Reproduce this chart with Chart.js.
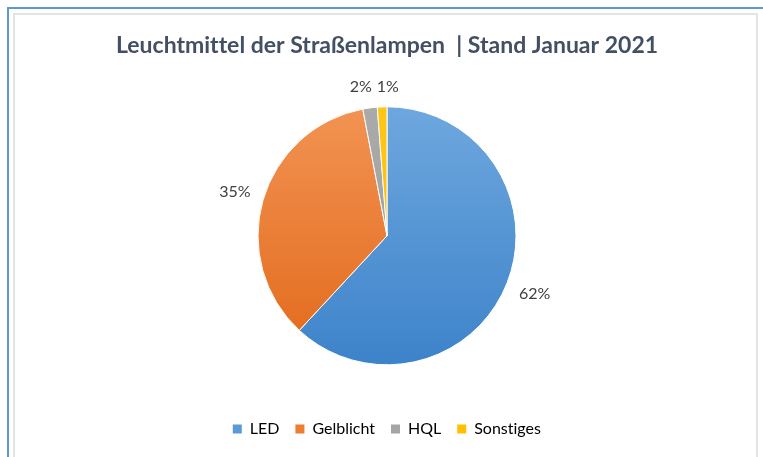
<!DOCTYPE html>
<html>
<head>
<meta charset="utf-8">
<script src="https://cdn.jsdelivr.net/npm/chart.js@4/dist/chart.umd.min.js"></script>
<style>
  html, body { margin: 0; padding: 0; background: #fff; }
  body { width: 763px; height: 457px; position: relative; overflow: hidden; }
  #outer { position: absolute; left: 7px; top: 7px; width: 780px; height: 470px;
           border-left: 2px solid #5b9bd5; border-top: 2px solid #5b9bd5; box-sizing: border-box; }
  #inner { position: absolute; left: 13px; top: 13px; width: 745px; height: 470px;
           border: 2px solid #e4e4e4; box-sizing: border-box; }
  #pie { position: absolute; left: 0; top: 0; }
</style>
</head>
<body>
<div id="outer"></div>
<div id="inner"></div>
<canvas id="pie" width="763" height="457"></canvas>
<script>
const categories = ["LED", "Gelblicht", "HQL", "Sonstiges"];
const shares = [61.9, 35.1, 1.8, 1.2];
const shareLabels = ["62%", "35%", "2%", "1%"];

const flat = ["#5b9bd5", "#ed7d31", "#a5a5a5", "#ffc000"];
const grad = [["#6ea7de", "#3d83ca"], ["#f29353", "#e2691a"], ["#aaaaaa", "#9c9c9c"], ["#ffc61a", "#f5b800"]];

const FONT = "Lato, 'Open Sans', sans-serif";

// no ligatures (Lato would join "ti")
const plainText = {
  id: "plainText",
  beforeDraw(chart) { chart.ctx.textRendering = "optimizeSpeed"; }
};

// slice labels placed just outside the rim, small neighbours pushed apart
const outsideLabels = {
  id: "outsideLabels",
  afterDatasetsDraw(chart) {
    const { ctx } = chart;
    const arcs = chart.getDatasetMeta(0).data;
    ctx.save();
    ctx.font = `16px ${FONT}`;
    ctx.fillStyle = "#404040";
    ctx.textAlign = "center";
    ctx.textBaseline = "middle";
    const pos = arcs.map((arc, i) => {
      const { x, y, startAngle, endAngle, outerRadius } = arc.getProps(["x", "y", "startAngle", "endAngle", "outerRadius"], true);
      const a = (startAngle + endAngle) / 2;
      const hw = ctx.measureText(shareLabels[i]).width / 2, hh = 8;
      const r = outerRadius + 12 + hw * Math.abs(Math.cos(a)) + hh * Math.abs(Math.sin(a));
      return { x: x + Math.cos(a) * r, y: y + Math.sin(a) * r, hw, i };
    });
    for (let k = 0; k < pos.length; k++) {
      for (let j = k + 1; j < pos.length; j++) {
        const p = pos[k], q = pos[j];
        if (Math.abs(p.y - q.y) < 16) {
          const need = p.hw + q.hw + 5;
          const gap = Math.abs(p.x - q.x);
          if (gap < need) {
            const m = (p.x + q.x) / 2, s = p.x < q.x ? 1 : -1;
            p.x = m - s * need / 2; q.x = m + s * need / 2;
            const yy = Math.min(p.y, q.y); p.y = yy; q.y = yy;
          }
        }
      }
    }
    pos.forEach(p => ctx.fillText(shareLabels[p.i], p.x, p.y));
    ctx.restore();
  }
};

function sliceFill(c) {
  const chart = c.chart, i = c.dataIndex;
  if (!chart.chartArea) return flat[i];
  const cy = (chart.chartArea.top + chart.chartArea.bottom) / 2, r = 129;
  const g = chart.ctx.createLinearGradient(0, cy - r, 0, cy + r);
  g.addColorStop(0, grad[i][0]);
  g.addColorStop(1, grad[i][1]);
  return g;
}

new Chart(document.getElementById("pie"), {
  type: "pie",
  data: {
    labels: categories,
    datasets: [{ data: shares, backgroundColor: sliceFill, borderColor: "#ffffff", borderWidth: 1 }]
  },
  options: {
    responsive: false,
    animation: false,
    radius: 129,
    layout: { padding: { top: 0, bottom: 10, left: 11, right: 0 } },
    plugins: {
      title: {
        display: true,
        text: "Leuchtmittel der Straßenlampen  | Stand Januar 2021",
        color: "#434f63",
        font: { family: FONT, size: 23, weight: "bold" },
        padding: { top: 32, bottom: 7 }
      },
      legend: {
        position: "bottom",
        labels: {
          boxWidth: 9, boxHeight: 9, padding: 16,
          color: "#595959",
          font: { family: FONT, size: 16 },
          generateLabels: (chart) => categories.map((t, i) => ({
            text: t, fillStyle: flat[i], strokeStyle: flat[i], lineWidth: 0, index: i, hidden: false
          }))
        }
      },
      tooltip: { enabled: false }
    }
  },
  plugins: [plainText, outsideLabels]
});
</script>
</body>
</html>
